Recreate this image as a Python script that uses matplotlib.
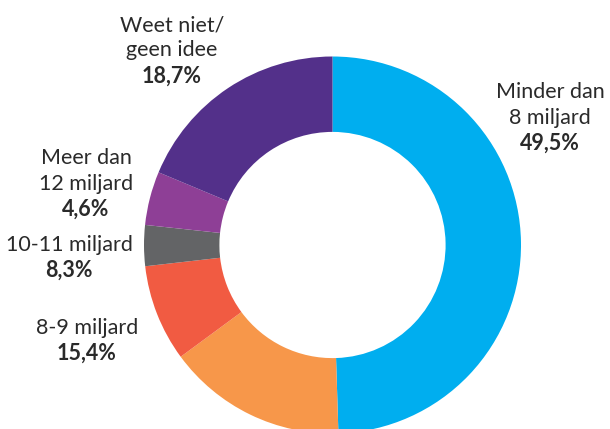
import matplotlib
matplotlib.use("Agg")
import matplotlib.pyplot as plt

categories = ["Minder dan 8 miljard", "8-9 miljard", "", "10-11 miljard", "Meer dan 12 miljard", "Weet niet/ geen idee"]
values = [49.5, 15.4, 8.3, 3.5, 4.6, 18.7]
colors = ["#00AEEF", "#F7974A", "#F15B42", "#636466", "#8E3F96", "#53308A"]

# labels as shown in the reference (name lines, percentage)
label_names = ["Minder dan\n8 miljard", "Weet niet/\ngeen idee", "Meer dan\n12 miljard", "10-11 miljard", "8-9 miljard"]
label_pcts = ["49,5%", "18,7%", "4,6%", "8,3%", "15,4%"]
# label anchor (center x, first-line center y) in pixels from top-left
label_pos = [(550, 92), (172, 25), (86, 158), (69, 245), (87, 328)]

W, H = 610, 429
fig = plt.figure(figsize=(W / 100, H / 100), dpi=100)
fig.patch.set_facecolor("white")

cx, cy, R = 332.5, 245, 188.5
ax = fig.add_axes([(cx - R) / W, (H - cy - R) / H, 2 * R / W, 2 * R / H])
ax.pie(values, colors=colors, startangle=90, counterclock=False,
       wedgeprops=dict(width=0.4, edgecolor="none"), radius=1)
ax.set_xlim(-1, 1)
ax.set_ylim(-1, 1)
ax.set_aspect("equal")
ax.axis("off")

txt_color = "#2a2a2a"
fs = 15.5
line_h = 25.5
for name, pct, (x, y) in zip(label_names, label_pcts, label_pos):
    lines = name.split("\n")
    for i, ln in enumerate(lines):
        fig.text(x / W, 1 - (y + i * line_h) / H, ln, ha="center", va="center",
                 fontsize=fs, family="Lato", color=txt_color)
    fig.text(x / W, 1 - (y + len(lines) * line_h) / H, pct, ha="center", va="center",
             fontsize=fs, family="Lato", fontweight="bold", color=txt_color)

fig.savefig("out.png", dpi=100, facecolor="white")
